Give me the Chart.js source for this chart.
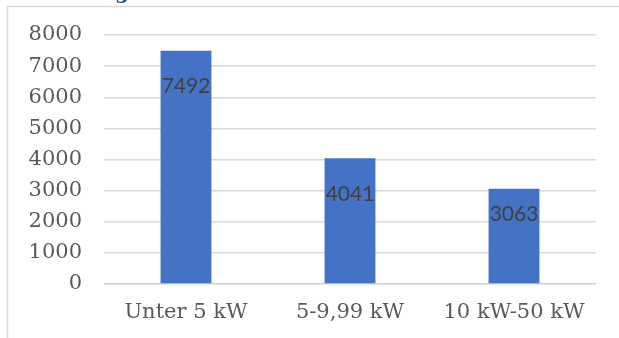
<!DOCTYPE html>
<html>
<head>
<meta charset="utf-8">
<script src="https://cdn.jsdelivr.net/npm/chart.js@4"></script>
<style>
  html, body { margin: 0; padding: 0; background: #ffffff; }
  #wrap { width: 619px; height: 338px; position: relative; }
</style>
</head>
<body>
<div id="wrap"><canvas id="chart"></canvas></div>
<script>
// Anlagen je Leistungsklasse
const categories = ['Unter 5 kW', '5-9,99 kW', '10 kW-50 kW'];
const anlagen = [7492, 4041, 3063];
const yTicks = [0, 1000, 2000, 3000, 4000, 5000, 6000, 7000, 8000];

const axisFont = { family: 'DejaVu Serif', size: 21 };
const labelFont = '21px Lato';

// frame and (cropped) heading
const framePlugin = {
  id: 'frame',
  beforeDraw(chart) {
    const ctx = chart.ctx;
    ctx.save();
    ctx.strokeStyle = '#d9d9d9';
    ctx.lineWidth = 1.5;
    ctx.beginPath();
    ctx.moveTo(7.5, chart.height);
    ctx.lineTo(7.5, 6.5);
    ctx.lineTo(chart.width, 6.5);
    ctx.stroke();
    ctx.fillStyle = '#1f4e79';
    ctx.font = 'bold 20px "DejaVu Serif"';
    ctx.textAlign = 'right';
    ctx.textBaseline = 'alphabetic';
    ctx.fillText('Leistung', 129, -1.5);
    ctx.restore();
  }
};

// value labels inside the bars
const valueLabels = {
  id: 'valueLabels',
  afterDatasetsDraw(chart, args, opts) {
    const ctx = chart.ctx;
    const meta = chart.getDatasetMeta(0);
    ctx.save();
    ctx.font = labelFont;
    ctx.fillStyle = '#404040';
    ctx.textAlign = 'center';
    ctx.textBaseline = 'middle';
    meta.data.forEach((bar, i) => {
      const v = chart.data.datasets[0].data[i];
      ctx.fillText(String(v), bar.x, bar.y + opts.offsets[i]);
    });
    ctx.restore();
  }
};

new Chart(document.getElementById('chart'), {
  type: 'bar',
  data: {
    labels: categories,
    datasets: [{
      data: anlagen,
      backgroundColor: '#4472c4',
      borderWidth: 0,
      barPercentage: 0.62,
      categoryPercentage: 0.5
    }]
  },
  options: {
    responsive: true,
    maintainAspectRatio: false,
    devicePixelRatio: 1,
    animation: false,
    layout: { padding: { top: 35, right: 23, left: 0, bottom: 0 } },
    plugins: {
      legend: { display: false },
      tooltip: { enabled: false },
      valueLabels: { offsets: [35, 36, 26] }
    },
    scales: {
      x: {
        grid: { display: false, drawTicks: false },
        border: { display: false },
        ticks: { color: '#595959', font: axisFont, padding: 16, maxRotation: 0 },
        afterFit(scale) { scale.height = 54; }
      },
      y: {
        min: 0,
        max: 8000,
        afterBuildTicks(scale) { scale.ticks = yTicks.map(v => ({ value: v })); },
        grid: {
          color: ctx => ctx.tick && ctx.tick.value === 0 ? '#d0d0d0' : '#d9d9d9',
          lineWidth: 1.5,
          drawTicks: false
        },
        border: { display: false },
        ticks: {
          color: '#595959',
          font: axisFont,
          padding: 22,
          callback: v => String(v)
        },
        afterFit(scale) { scale.width = 104; }
      }
    }
  },
  plugins: [framePlugin, valueLabels]
});
</script>
</body>
</html>
